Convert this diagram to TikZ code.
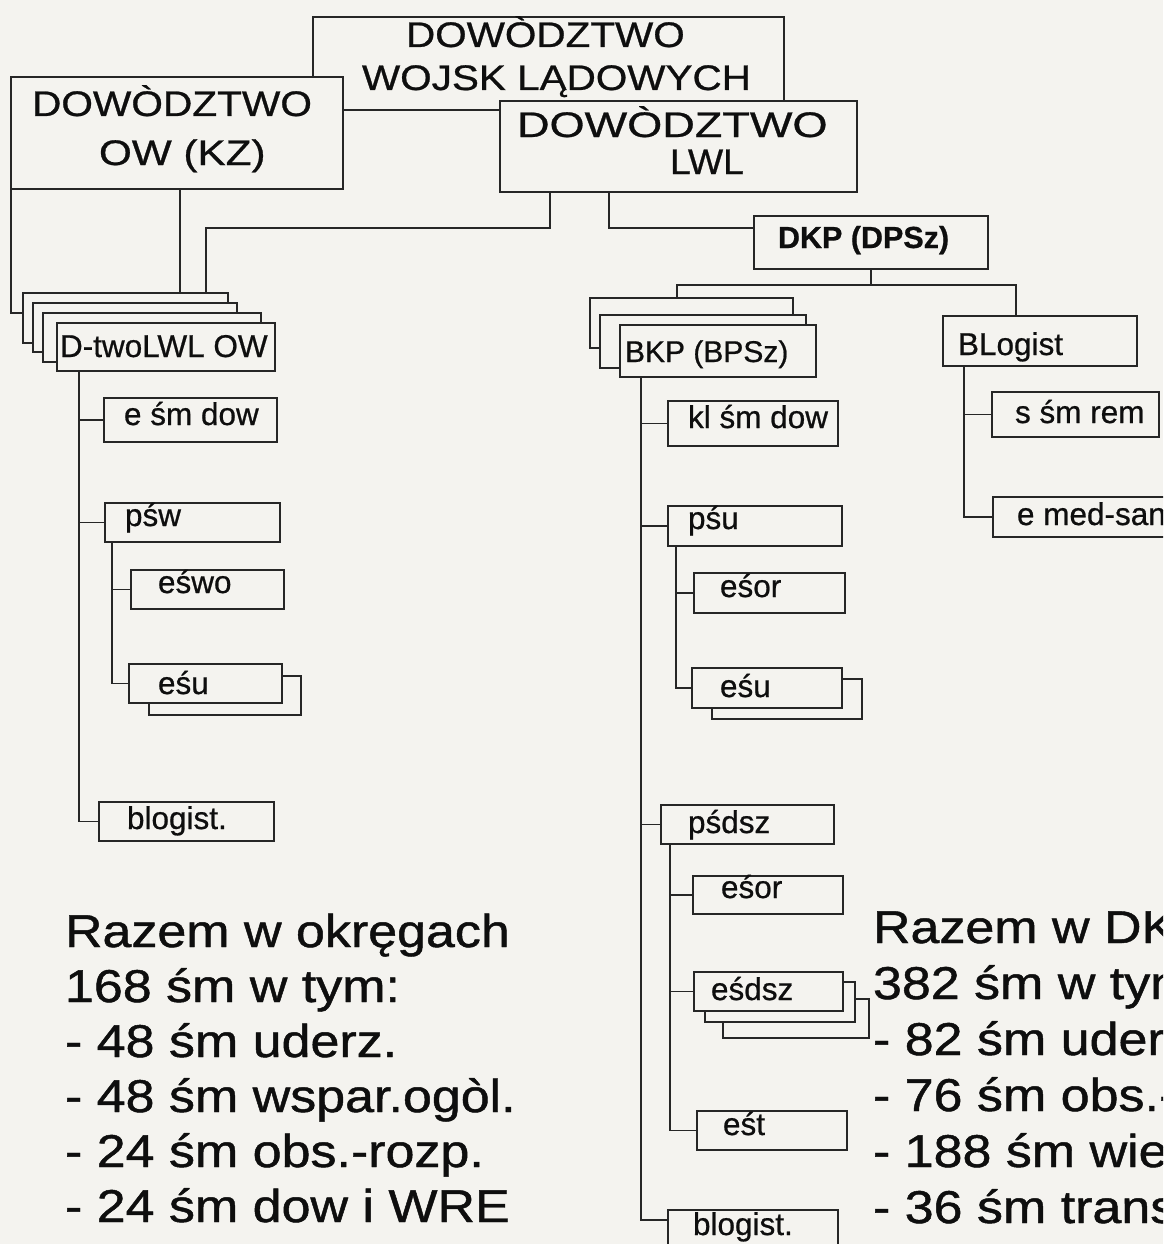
\documentclass[tikz,border=0pt]{standalone}
\usepackage{fontspec}
\usepackage{graphicx}
\setmainfont[FakeBold=0.7]{Liberation Sans}
\newfontfamily\widefont[FakeStretch=1.13,FakeBold=1.0]{Liberation Sans}
\usetikzlibrary{calc}
\definecolor{bg}{HTML}{F4F3EF}
\definecolor{ink}{HTML}{262626}
\definecolor{txt}{HTML}{0E0E0E}
\tikzset{
  box/.style={draw=ink, line width=1.2pt, fill=bg, inner sep=0pt, outer sep=0pt, anchor=north west},
  conn/.style={draw=ink, line width=1.05pt},
  lbl/.style={anchor=base west, inner sep=0pt, outer sep=0pt, text=txt, font=\fontsize{31.5}{36}\selectfont},
  biglbl/.style={anchor=base west, inner sep=0pt, outer sep=0pt, text=txt, font=\fontsize{35.5}{40}\selectfont},
  sumlbl/.style={anchor=base west, inner sep=0pt, outer sep=0pt, text=txt, font=\widefont\fontsize{46}{52}\selectfont},
}
\newcommand\mybox[5]{\node[box, minimum width={#4-#2}, minimum height={#5-#3}] (#1) at (#2,#3) {};}
\begin{document}
\begin{tikzpicture}[x=1pt,y=-1pt]
\fill[bg] (0,0) rectangle (1163,1244);
\useasboundingbox (0,0) rectangle (1163,1244);
\clip (0,0) rectangle (1163,1244);

% ---- top level
\mybox{T}{313}{17}{784}{110}
\node[biglbl] (t1) at (406,47) {\scalebox{1.14}[1]{DOWÒDZTWO}};
\node[biglbl] (t2) at (362,90) {\scalebox{1.14}[1]{WOJSK LĄDOWYCH}};
\mybox{OW}{11}{77}{343}{189}
\node[biglbl] (o1) at (32,116) {\scalebox{1.145}[1]{DOWÒDZTWO}};
\node[biglbl] (o2) at (99,165) {\scalebox{1.19}[1]{OW (KZ)}};
\mybox{LWL}{500}{101}{857}{192}
\node[biglbl] (l1) at (517,137) {\scalebox{1.27}[1]{DOWÒDZTWO}};
\node[biglbl] (l2) at (670,174) {\scalebox{1.05}[1]{LWL}};

% ---- D-two stack
\mybox{D1}{23}{293}{228}{343}
\mybox{D2}{33}{303}{237}{352}
\mybox{D3}{43}{313}{261}{362}
\mybox{D4}{57}{323}{275}{371}
\node[lbl] (d4t) at (60,357) {D-twoLWL OW};

\coordinate (xa) at (180,0);
\coordinate (xb) at (550,0);
\coordinate (xc) at (206,0);
\coordinate (xd) at (609,0);
\draw[conn] (OW.south -| xa) -- (D1.north -| xa);
\draw[conn] (LWL.south -| xb) -- ++(0,36) -| (D1.north -| xc);
\draw[conn] (OW.south west) |- ([yshift=-20pt]D1.north west);

% ---- left column
\coordinate (xL) at (79,0);
\coordinate (xL2) at (112,0);
\mybox{a1}{104}{398}{277}{442} \node[lbl] (a1t) at (124,425) {e śm dow};
\mybox{a2}{105}{503}{280}{542} \node[lbl] (a2t) at (125,526) {pśw};
\mybox{a3}{131}{570}{284}{609} \node[lbl] (a3t) at (158,593) {eśwo};
\mybox{a4s}{149}{676}{301}{715}
\mybox{a4}{129}{664}{282}{703} \node[lbl] (a4t) at (158,694) {eśu};
\mybox{a5}{99}{802}{274}{841} \node[lbl] (a5t) at (127,829) {blogist.};
\draw[conn] (D4.south -| xL) |- (a5.west);
\draw[conn] (xL |- a1.west) -- (a1.west);
\draw[conn] (xL |- a2.west) -- (a2.west);
\draw[conn] (a2.south -| xL2) |- (a4.west);
\draw[conn] (xL2 |- a3.west) -- (a3.west);

% ---- DKP
\mybox{DKP}{754}{216}{988}{269}
\node[lbl, font=\bfseries\fontsize{30.5}{36}\selectfont] (dkpt) at (778,248) {DKP (DPSz)};
\draw[conn] (LWL.south -| xd) |- ([yshift=-12pt]DKP.north west);

\coordinate (hL) at (677,285);
\coordinate (hR) at (1016,285);
\mybox{B1}{590}{298}{793}{348}
\mybox{B2}{600}{315}{806}{368}
\mybox{B3}{620}{325}{816}{377}
\node[lbl, font=\fontsize{30}{36}\selectfont] (b3t) at (625,362) {BKP (BPSz)};
\mybox{BL}{943}{316}{1137}{366}
\node[lbl] (blt) at (958,355) {BLogist};
\draw[conn] (DKP.south) -- (DKP.south |- hL);
\draw[conn] (B1.north -| hL) -- (hL) -- (hR) -- (BL.north -| hR);

% ---- BKP column
\coordinate (xR) at (641,0);
\coordinate (xR2) at (676,0);
\coordinate (xR3) at (670,0);
\mybox{b1}{668}{401}{838}{446} \node[lbl] (b1t) at (688,428) {kl śm dow};
\mybox{b2}{668}{506}{842}{546} \node[lbl] (b2t) at (688,529) {pśu};
\mybox{b3}{694}{573}{845}{613} \node[lbl] (b3tt) at (720,597) {eśor};
\mybox{b4s}{712}{679}{862}{719}
\mybox{b4}{692}{668}{842}{708} \node[lbl] (b4t) at (720,697) {eśu};
\mybox{b5}{661}{805}{834}{844} \node[lbl] (b5t) at (688,833) {pśdsz};
\mybox{b6}{693}{876}{843}{914} \node[lbl] (b6t) at (721,898) {eśor};
\mybox{b7c}{723}{999}{869}{1038}
\mybox{b7b}{705}{982}{855}{1022}
\mybox{b7}{694}{972}{843}{1011} \node[lbl] (b7t) at (711,1000) {eśdsz};
\mybox{b8}{697}{1111}{847}{1150} \node[lbl] (b8t) at (723,1135) {eśt};
\mybox{b9}{668}{1210}{838}{1252} \node[lbl] (b9t) at (693,1235) {blogist.};
\draw[conn] (B3.south -| xR) |- ([yshift=-10pt]b9.north west);
\foreach \n in {b1,b2,b5} \draw[conn] (xR |- \n.west) -- (\n.west);
\draw[conn] (b2.south -| xR2) |- (b4.west);
\draw[conn] (xR2 |- b3.west) -- (b3.west);
\draw[conn] (b5.south -| xR3) |- (b8.west);
\draw[conn] (xR3 |- b6.west) -- (b6.west);
\draw[conn] (xR3 |- b7.west) -- (b7.west);

% ---- BLogist column
\coordinate (xB) at (964,0);
\mybox{c1}{992}{392}{1159}{437} \node[lbl] (c1t) at (1015,423) {s śm rem};
\mybox{c2}{993}{497}{1190}{537} \node[lbl] (c2t) at (1017,525) {e med-san};
\draw[conn] (BL.south -| xB) |- (c2.west);
\draw[conn] (xB |- c1.west) -- (c1.west);

% ---- summaries (the right one runs off the page edge, as in the original)
\foreach \s [count=\i] in {Razem w okręgach,168 śm w tym:,- 48 śm uderz.,- 48 śm wspar.ogòl.,- 24 śm obs.-rozp.,- 24 śm dow i WRE}
  \node[sumlbl] (L\i) at (65,{947+(\i-1)*55}) {\s};
\foreach \s [count=\i] in {Razem w DK,382 śm w tym,- 82 śm uder,- 76 śm obs.-,- 188 śm wie,- 36 śm trans}
  \node[sumlbl] (R\i) at (873,{943+(\i-1)*56}) {\s};
\end{tikzpicture}
\end{document}
